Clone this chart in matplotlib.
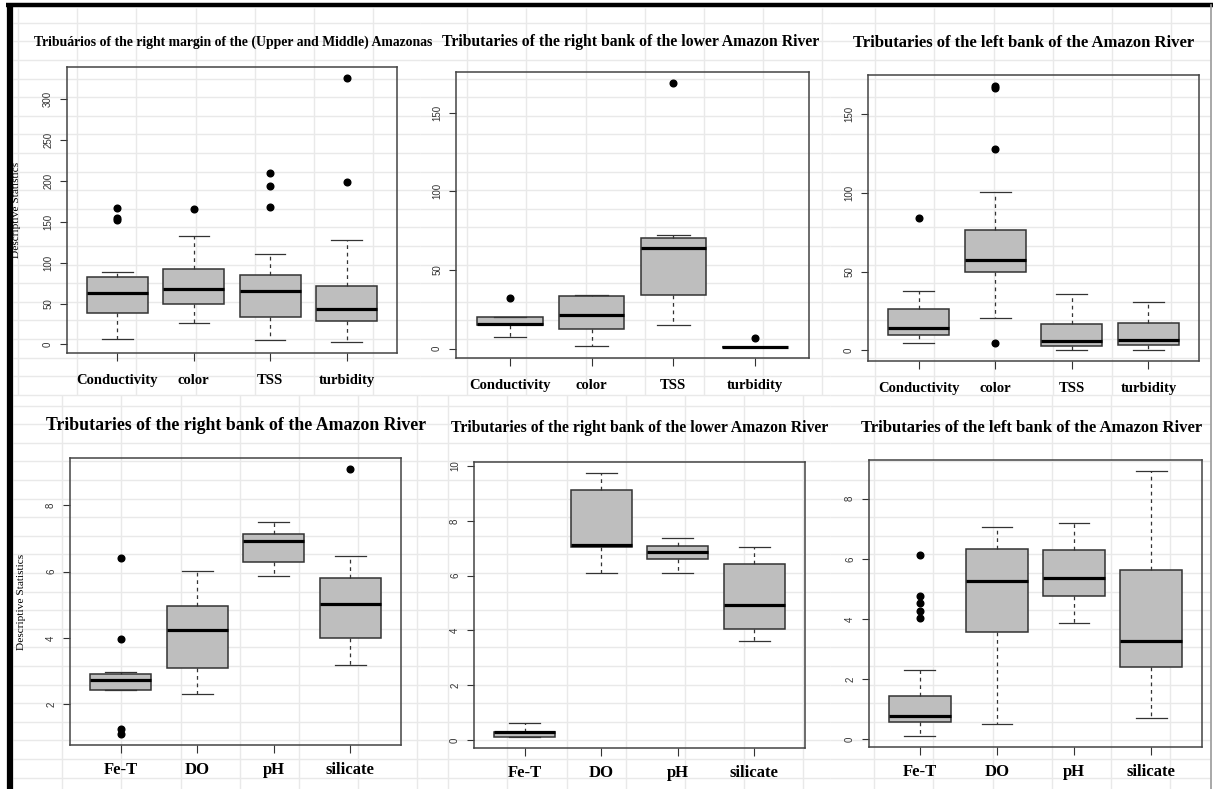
import numpy as np
import matplotlib
matplotlib.use("Agg")
import matplotlib.pyplot as plt

W, H = 1213, 789

# ---- data ----
top_vars = ["Conductivity", "color", "TSS", "turbidity"]
bottom_vars = ["Fe-T", "DO", "pH", "silicate"]

titles = [
    "Tribuários of the right margin of the (Upper and Middle) Amazonas",
    "Tributaries of the right bank of the lower Amazon River",
    "Tributaries of the left bank of the Amazon River",
    "Tributaries of the right bank of the Amazon River",
    "Tributaries of the right bank of the lower Amazon River",
    "Tributaries of the left bank of the Amazon River",
]

# panel 1 - upper/middle Amazonas, right margin
p1_whislo = [6.5, 26, 5, 2.5]
p1_q1 = [39, 50, 34, 29]
p1_med = [63, 68, 65, 43]
p1_q3 = [82, 92, 85, 72]
p1_whishi = [88, 133, 110, 127]
p1_fliers = [[167, 155, 152], [165], [209, 194, 168], [326, 198]]

# panel 2 - lower Amazon, right bank
p2_whislo = [7.6, 1.9, 14.9, 0.8]
p2_q1 = [14.9, 12.5, 34.4, 0.8]
p2_med = [15.7, 21.6, 64, 1.0]
p2_q3 = [20, 33.7, 70.4, 1.3]
p2_whishi = [20, 34, 72, 1.3]
p2_fliers = [[32], [], [169], [6.8]]

# panel 3 - left bank
p3_whislo = [4.6, 20.5, 0, 0.4]
p3_q1 = [9.9, 49.9, 3, 3.6]
p3_med = [14.4, 57.3, 6.1, 6.8]
p3_q3 = [26.2, 76.3, 16.7, 17.3]
p3_whishi = [37.6, 100.4, 35.7, 30.4]
p3_fliers = [[84.3], [168, 166.5, 128, 4.9], [], []]

# panel 4 - right bank
p4_whislo = [2.42, 2.32, 5.87, 3.17]
p4_q1 = [2.42, 3.09, 6.28, 4.01]
p4_med = [2.73, 4.25, 6.92, 5.01]
p4_q3 = [2.91, 4.95, 7.13, 5.80]
p4_whishi = [2.97, 6.03, 7.49, 6.48]
p4_fliers = [[6.42, 3.96, 1.26, 1.09], [], [], [9.11]]

# panel 5 - lower Amazon, right bank
p5_whislo = [0.10, 6.09, 6.11, 3.61]
p5_q1 = [0.12, 7.03, 6.62, 4.04]
p5_med = [0.28, 7.11, 6.88, 4.93]
p5_q3 = [0.30, 9.14, 7.09, 6.42]
p5_whishi = [0.61, 9.76, 7.37, 7.06]
p5_fliers = [[], [], [], []]

# panel 6 - left bank
p6_whislo = [0.10, 0.51, 3.86, 0.72]
p6_q1 = [0.57, 3.58, 4.77, 2.39]
p6_med = [0.78, 5.27, 5.37, 3.28]
p6_q3 = [1.45, 6.31, 6.28, 5.62]
p6_whishi = [2.29, 7.07, 7.20, 8.93]
p6_fliers = [[6.13, 4.77, 4.53, 4.27, 4.02], [], [], []]

y_ticks = [
    [0, 50, 100, 150, 200, 250, 300],
    [0, 50, 100, 150],
    [0, 50, 100, 150],
    [2, 4, 6, 8],
    [0, 2, 4, 6, 8, 10],
    [0, 2, 4, 6, 8],
]

panels = [
    (p1_whislo, p1_q1, p1_med, p1_q3, p1_whishi, p1_fliers),
    (p2_whislo, p2_q1, p2_med, p2_q3, p2_whishi, p2_fliers),
    (p3_whislo, p3_q1, p3_med, p3_q3, p3_whishi, p3_fliers),
    (p4_whislo, p4_q1, p4_med, p4_q3, p4_whishi, p4_fliers),
    (p5_whislo, p5_q1, p5_med, p5_q3, p5_whishi, p5_fliers),
    (p6_whislo, p6_q1, p6_med, p6_q3, p6_whishi, p6_fliers),
]

# ---- layout (pixels: left, top, right, bottom) ----
boxes_px = [
    (67, 67, 397, 353),
    (456, 72, 809, 358),
    (868, 75, 1199, 361),
    (70, 458, 401, 745),
    (474, 462, 805, 748),
    (869, 460, 1202, 747),
]
title_xy = [(233, 42), (631, 42), (1024, 43), (236, 425), (640, 428), (1032, 428)]
title_size = [9.9, 11.3, 12.0, 12.8, 11.3, 12.0]
ylab_x = [17, None, None, 21, None, None]

plt.rcParams['font.family'] = ['Liberation Serif', 'DejaVu Serif']

fig = plt.figure(figsize=(W / 100, H / 100), dpi=100)

# spreadsheet-like background
bg = fig.add_axes([0, 0, 1, 1], zorder=0)
bg.set_xlim(0, W)
bg.set_ylim(H, 0)
bg.axis('off')
gc = '#e9e9e9'
cells = [
    ((13, 420), (8, 395), 18, 4.1),
    ((420, 830), (8, 395), 408, 4.1),
    ((830, 1210), (8, 395), 816, 4.1),
    ((13, 420), (395, 789), 3, 15),
    ((420, 830), (395, 789), 389, 15),
    ((830, 1210), (395, 789), 815, 15),
]
for (x0, x1), (y0, y1), xs, ys in cells:
    xv = np.arange(xs, x1, 59.2)
    xv = xv[xv > x0]
    bg.vlines(xv, y0, y1, color=gc, lw=1.0)
    yv = np.arange(ys, y1, 18.6)
    yv = yv[yv > y0]
    bg.hlines(yv, x0, x1, color=gc, lw=1.0)
bg.plot([6, W], [5, 5], color='black', lw=3.2, solid_capstyle='butt')
bg.plot([10, 10], [3, H], color='black', lw=4.5, solid_capstyle='butt')
bg.plot([1211, 1211], [5, H], color='#9a9a9a', lw=1.2)

for i, (wl, q1, md, q3, wh, fl) in enumerate(panels):
    l, t, r, b = boxes_px[i]
    ax = fig.add_axes([l / W, 1 - b / H, (r - l) / W, (b - t) / H], zorder=1)
    ax.patch.set_alpha(0)
    stats = []
    for k in range(4):
        stats.append(dict(whislo=wl[k], q1=q1[k], med=md[k], q3=q3[k],
                          whishi=wh[k], fliers=fl[k]))
    ax.bxp(stats, positions=[1, 2, 3, 4], widths=0.8, capwidths=0.4,
           patch_artist=True, showfliers=True,
           boxprops=dict(facecolor='#bebebe', edgecolor='#333333', lw=1.1),
           medianprops=dict(color='black', lw=2.3, solid_capstyle='butt'),
           whiskerprops=dict(color='#333333', lw=0.9, linestyle=(0, (3, 3))),
           capprops=dict(color='#333333', lw=0.9),
           flierprops=dict(marker='o', markerfacecolor='black',
                           markeredgecolor='black', markersize=4.8))
    # R style 4% padding
    allv = wl + wh + [v for f in fl for v in f]
    lo, hi = min(allv), max(allv)
    pad = 0.04 * (hi - lo)
    ax.set_ylim(lo - pad, hi + pad)
    ax.set_xlim(0.34, 4.66)

    ax.set_yticks(y_ticks[i])
    ax.set_yticklabels([str(v) for v in y_ticks[i]], rotation=90, va='center',
                       family='Liberation Sans', fontsize=7, color='#333333')
    ax.tick_params(axis='y', direction='out', length=5, width=0.8,
                   color='#333333', pad=5)
    names = top_vars if i < 3 else bottom_vars
    ax.set_xticks([1, 2, 3, 4])
    ax.set_xticklabels(names, fontweight='bold',
                       fontsize=10.5 if i < 3 else 12)
    ax.tick_params(axis='x', direction='out', length=6, width=0.8,
                   color='#333333', pad=9 if i < 3 else 6)
    for s in ax.spines.values():
        s.set_color('#444444')
        s.set_linewidth(1.1)

    if ylab_x[i] is not None:
        ax.set_ylabel('Descriptive Statistics', fontsize=8.2, va='center')
        ax.yaxis.set_label_coords((ylab_x[i] - l) / (r - l), 0.5)

    tx, ty = title_xy[i]
    fig.text(tx / W, 1 - ty / H, titles[i], ha='center', va='center',
             fontweight='bold', fontsize=title_size[i])

fig.savefig('out.png', dpi=100)
